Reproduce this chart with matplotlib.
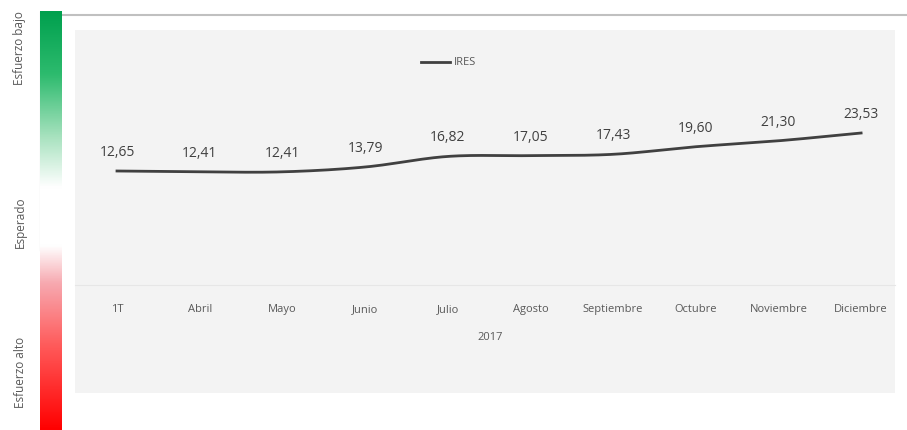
import numpy as np
import matplotlib.pyplot as plt
from matplotlib.colors import LinearSegmentedColormap

plt.rcParams['font.family'] = ['Open Sans', 'DejaVu Sans']

# Data
months = ['1T', 'Abril', 'Mayo', 'Junio', 'Julio', 'Agosto',
          'Septiembre', 'Octubre', 'Noviembre', 'Diciembre']
ires = [12.65, 12.41, 12.41, 13.79, 16.82, 17.05, 17.43, 19.60, 21.30, 23.53]
year_label = '2017'
series_name = 'IRES'
scale_labels = ['Esfuerzo bajo', 'Esperado', 'Esfuerzo alto']

W, H = 907, 430
fig = plt.figure(figsize=(W / 100, H / 100), dpi=100)
fig.patch.set_facecolor('white')


def box(x0, y0, x1, y1):
    # pixel box (top-left origin) -> figure fraction
    return [x0 / W, 1 - y1 / H, (x1 - x0) / W, (y1 - y0) / H]


# thin grey frame lines
bg = fig.add_axes([0, 0, 1, 1], zorder=0)
bg.set_xlim(0, W)
bg.set_ylim(H, 0)
bg.axis('off')
bg.plot([62, 907], [14.5, 14.5], color='#c0c0c0', lw=1.5)
bg.plot([40, 40], [12, 250], color='#c8c8c8', lw=0.8)
# chart area background
bg.add_patch(plt.Rectangle((75, 30), 820, 363, color='#f3f3f3', lw=0))

# gradient strip
strip = fig.add_axes(box(40, 11, 62, 430), zorder=2)
cmap = LinearSegmentedColormap.from_list(
    'effort', [(0.0, '#00a04e'), (0.15, '#2dbb6e'), (0.30, '#a8e2bf'),
               (0.42, '#ffffff'), (0.56, '#ffffff'), (0.65, '#f7a9b0'),
               (0.80, '#ff5a5a'), (1.0, '#ff0000')])
grad = np.linspace(0, 1, 256).reshape(-1, 1)
strip.imshow(grad, aspect='auto', cmap=cmap, extent=[0, 1, 1, 0])
strip.axis('off')

for lbl, yp in zip(scale_labels, [48, 222, 372]):
    fig.text(20 / W, 1 - yp / H, lbl, rotation=90, ha='center', va='center',
             fontsize=8.5, color='#595959')

# main chart
ax = fig.add_axes(box(75, 35, 895, 285), zorder=3)
ax.patch.set_alpha(0)
x = np.arange(len(months))

# smooth line (Catmull-Rom through the data points)
pts = np.column_stack([x, ires]).astype(float)
ext = np.vstack([2 * pts[0] - pts[1], pts, 2 * pts[-1] - pts[-2]])
curve = []
for i in range(1, len(ext) - 2):
    p0, p1, p2, p3 = ext[i - 1], ext[i], ext[i + 1], ext[i + 2]
    t = np.linspace(0, 1, 30)[:, None]
    seg = 0.5 * ((2 * p1) + (-p0 + p2) * t + (2 * p0 - 5 * p1 + 4 * p2 - p3) * t ** 2
                 + (-p0 + 3 * p1 - 3 * p2 + p3) * t ** 3)
    curve.append(seg)
curve = np.vstack(curve)
ax.plot(curve[:, 0], curve[:, 1], color='#404040', lw=2, label=series_name)

for xi, v in zip(x, ires):
    ax.annotate(f'{v:.2f}'.replace('.', ','), (xi, v), xytext=(0, 8),
                textcoords='offset points', ha='center', va='bottom',
                fontsize=10, color='#404040')

ax.set_xlim(-0.508, len(months) - 1 + 0.41)
ax.set_ylim(-20, 51.6)
ax.set_yticks([])
ax.set_xticks(x)
ax.set_xticklabels(months, fontsize=8, color='#595959')
ax.tick_params(axis='x', length=0, pad=14)
for s in ['top', 'right', 'left']:
    ax.spines[s].set_visible(False)
ax.spines['bottom'].set_color('#e6e6e6')

fig.text(490 / W, 1 - 337 / H, year_label, ha='center', va='center',
         fontsize=8, color='#595959')

ax.legend(loc='upper left', bbox_to_anchor=(0.41, 0.95), frameon=False,
          fontsize=8, handlelength=2.6, handletextpad=0.3,
          labelcolor='#595959')

fig.savefig('out.png', dpi=100, facecolor='white')
